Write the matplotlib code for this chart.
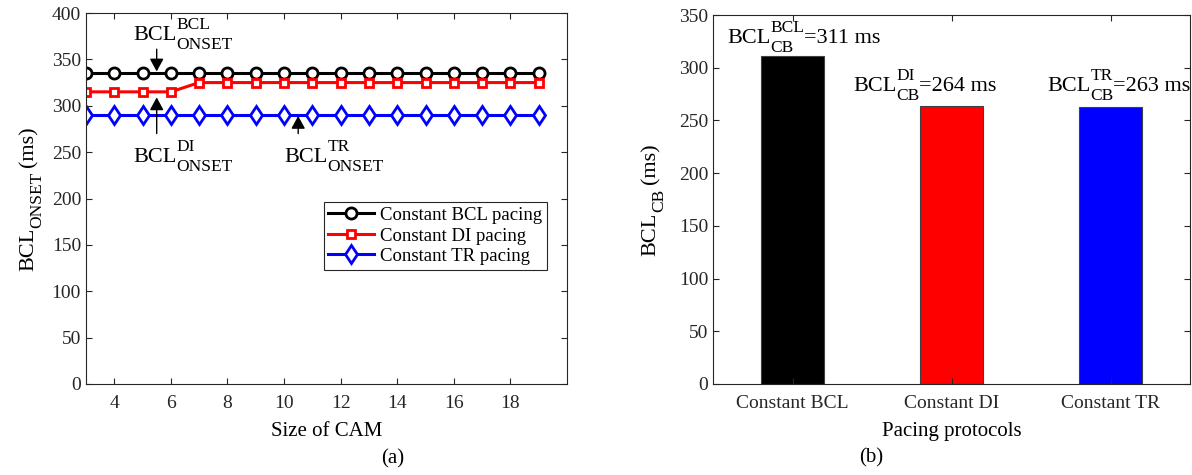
import numpy as np
import matplotlib
matplotlib.use('Agg')
import matplotlib.pyplot as plt
from matplotlib.transforms import IdentityTransform

plt.rcParams['font.family'] = 'Liberation Serif'
plt.rcParams['xtick.direction'] = 'in'
plt.rcParams['ytick.direction'] = 'in'

# data for (a)
cam_size = list(range(3, 20))
onset_bcl = [335] * 17
onset_di = [315, 315, 315, 315] + [325] * 13
onset_tr = [290] * 17

# data for (b)
protocols = ['Constant BCL', 'Constant DI', 'Constant TR']
bcl_cb = [311, 264, 263]
bar_colors = ['black', 'red', 'blue']
bar_sups = ['BCL', 'DI', 'TR']

axcol = '#262626'
W, H = 1192, 475

fig = plt.figure(figsize=(W / 100, H / 100), dpi=100)
ax1 = fig.add_axes([0.0721, 0.1916, 0.4036, 0.781])
ax2 = fig.add_axes([0.5982, 0.1916, 0.4002, 0.7768])
renderer = fig.canvas.get_renderer()


def text_width(s, size):
    t = fig.text(0, 0, s, fontsize=size)
    w = t.get_window_extent(renderer).width
    t.remove()
    return w


def rich_text(px, py, base, sup='', sub='', tail='', fs=16, fs2=12.5,
              up=11, down=9, rot=0, gap=0, center=False):
    # base^sup_sub + tail, px/py = start of baseline in display pixels
    wb = text_width(base, fs)
    ws = max(text_width(sup, fs2) if sup else 0, text_width(sub, fs2) if sub else 0)
    wt = text_width(tail, fs) if tail else 0
    total = wb + ws + gap + wt
    ux, uy = (1, 0) if rot == 0 else (0, 1)
    nx, ny = (0, 1) if rot == 0 else (-1, 0)
    if center:
        px -= ux * total / 2
        py -= uy * total / 2

    def put(s, size, along, normal):
        fig.text(px + ux * along + nx * normal, py + uy * along + ny * normal, s,
                 fontsize=size, transform=IdentityTransform(), rotation=rot,
                 rotation_mode='anchor', ha='left', va='baseline')
    put(base, fs, 0, 0)
    if sup:
        put(sup, fs2, wb, up)
    if sub:
        put(sub, fs2, wb, -down)
    if tail:
        put(tail, fs, wb + ws + gap, 0)


for ax in (ax1, ax2):
    for s in ax.spines.values():
        s.set_color(axcol)
        s.set_linewidth(0.8)
    ax.tick_params(top=True, right=True, length=4, width=0.8, colors=axcol,
                   labelsize=14, labelcolor=axcol)
    ax.tick_params(axis='x', pad=8)

# ---- (a) ----
ax1.plot(cam_size, onset_bcl, '-o', color='black', lw=2.2, ms=8,
         mfc='white', mew=2, label='Constant BCL pacing')
ax1.plot(cam_size, onset_di, '-s', color='red', lw=2.2, ms=6,
         mfc='white', mew=2, label='Constant DI pacing')
ax1.plot(cam_size, onset_tr, '-d', color='blue', lw=2.2, ms=9.5,
         mfc='white', mew=2, label='Constant TR pacing')
ax1.set_xlim(3, 20)
ax1.set_ylim(0, 400)
ax1.set_xticks(range(4, 20, 2))
ax1.set_yticks(range(0, 401, 50))
ax1.set_xlabel('Size of CAM', fontsize=15, labelpad=7)

leg = ax1.legend(loc='upper right', bbox_to_anchor=(0.958, 0.49), borderaxespad=0,
                 fontsize=13.5, fancybox=False, framealpha=1, edgecolor=axcol,
                 handlelength=2.45, labelspacing=0.18, borderpad=0.25, handletextpad=0.3)
leg.get_frame().set_linewidth(0.8)

arr = dict(arrowstyle='-|>,head_length=0.55,head_width=0.3', color='black', lw=1,
           mutation_scale=14, shrinkA=0, shrinkB=0)
ax1.annotate('', xy=(5.5, 337), xytext=(5.5, 361), arrowprops=arr)
ax1.annotate('', xy=(5.5, 309), xytext=(5.5, 270), arrowprops=arr)
ax1.annotate('', xy=(10.5, 289), xytext=(10.5, 270), arrowprops=arr)

onset_labels = [(4.66, 371, 'BCL'), (4.66, 239, 'DI'), (10.0, 239, 'TR')]
for lx, ly, sup in onset_labels:
    px, py = ax1.transData.transform((lx, ly))
    rich_text(px, py, 'BCL', sup, 'ONSET')

# ---- (b) ----
pos = np.arange(1, len(protocols) + 1)
ax2.bar(pos, bcl_cb, width=0.4, color=bar_colors, edgecolor='#404040', linewidth=0.8)
ax2.set_xlim(0.5, 3.5)
ax2.set_ylim(0, 350)
ax2.set_xticks(pos)
ax2.set_xticklabels(protocols)
ax2.set_yticks(range(0, 351, 50))
ax2.set_xlabel('Pacing protocols', fontsize=15, labelpad=7)

label_x = [0.588, 1.38, 2.60]
label_y = [323.5, 278, 278]
for lx, ly, sup, v in zip(label_x, label_y, bar_sups, bcl_cb):
    px, py = ax2.transData.transform((lx, ly))
    rich_text(px, py, 'BCL', sup, 'CB', '=%d ms' % v)

# y labels with big subscripts
rich_text(33, H - 198.5, 'BCL', '', 'ONSET', '(ms)', rot=90, gap=5, down=-8 + 16, center=True)
rich_text(655, H - 199.5, 'BCL', '', 'CB', '(ms)', rot=90, gap=5, down=-8 + 16, center=True)

fig.text(393 / W, 1 - 459 / H, '(a)', fontsize=15, ha='center', va='center')
fig.text(871 / W, 1 - 458 / H, '(b)', fontsize=15, ha='center', va='center')

fig.savefig('out.png', dpi=100)
